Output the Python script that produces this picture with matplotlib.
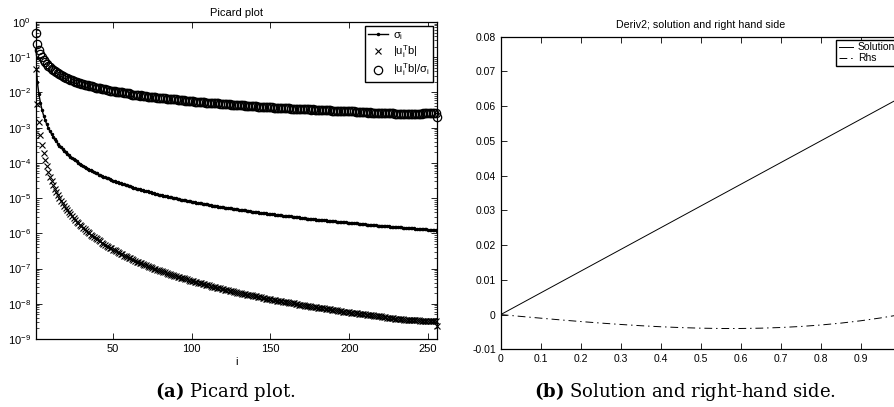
import numpy as np
import matplotlib
matplotlib.use("Agg")
import matplotlib.pyplot as plt
from matplotlib.ticker import LogLocator, NullFormatter, FuncFormatter

# Picard plot data, log10 values (index i = 1..256)
sigma_log = [
    -1.02, -1.70, -2.05, -2.30, -2.50, -2.66, -2.79, -2.91, -3.01, -3.10,
    -3.18, -3.26, -3.33, -3.39, -3.45, -3.51, -3.56, -3.61, -3.66, -3.70,
    -3.74, -3.78, -3.82, -3.86, -3.90, -3.93, -3.96, -3.99, -4.02, -4.05,
    -4.08, -4.11, -4.14, -4.16, -4.19, -4.21, -4.24, -4.26, -4.28, -4.30,
    -4.33, -4.35, -4.37, -4.39, -4.41, -4.43, -4.44, -4.46, -4.48, -4.50,
    -4.52, -4.53, -4.55, -4.56, -4.58, -4.60, -4.61, -4.63, -4.64, -4.66,
    -4.67, -4.68, -4.70, -4.71, -4.73, -4.74, -4.75, -4.77, -4.78, -4.79,
    -4.80, -4.81, -4.83, -4.84, -4.85, -4.86, -4.87, -4.88, -4.90, -4.91,
    -4.92, -4.93, -4.94, -4.95, -4.96, -4.97, -4.98, -4.99, -5.00, -5.01,
    -5.02, -5.03, -5.04, -5.05, -5.06, -5.06, -5.07, -5.08, -5.09, -5.10,
    -5.11, -5.12, -5.13, -5.13, -5.14, -5.15, -5.16, -5.17, -5.17, -5.18,
    -5.19, -5.20, -5.21, -5.21, -5.22, -5.23, -5.24, -5.24, -5.25, -5.26,
    -5.27, -5.27, -5.28, -5.29, -5.29, -5.30, -5.31, -5.31, -5.32, -5.33,
    -5.33, -5.34, -5.35, -5.35, -5.36, -5.37, -5.37, -5.38, -5.39, -5.39,
    -5.40, -5.40, -5.41, -5.42, -5.42, -5.43, -5.43, -5.44, -5.45, -5.45,
    -5.46, -5.46, -5.47, -5.48, -5.48, -5.49, -5.49, -5.50, -5.50, -5.51,
    -5.51, -5.52, -5.52, -5.53, -5.53, -5.54, -5.55, -5.55, -5.56, -5.56,
    -5.57, -5.57, -5.58, -5.58, -5.59, -5.59, -5.60, -5.60, -5.61, -5.61,
    -5.62, -5.62, -5.62, -5.63, -5.63, -5.64, -5.64, -5.65, -5.65, -5.66,
    -5.66, -5.67, -5.67, -5.68, -5.68, -5.68, -5.69, -5.69, -5.70, -5.70,
    -5.71, -5.71, -5.72, -5.72, -5.72, -5.73, -5.73, -5.74, -5.74, -5.74,
    -5.75, -5.75, -5.76, -5.76, -5.76, -5.77, -5.77, -5.78, -5.78, -5.78,
    -5.79, -5.79, -5.80, -5.80, -5.80, -5.81, -5.81, -5.82, -5.82, -5.82,
    -5.83, -5.83, -5.83, -5.84, -5.84, -5.85, -5.85, -5.85, -5.86, -5.86,
    -5.86, -5.87, -5.87, -5.87, -5.88, -5.88, -5.89, -5.89, -5.89, -5.90,
    -5.90, -5.90, -5.91, -5.91, -5.91, -5.92,
]

utb_log = [
    -1.33, -2.32, -2.84, -3.21, -3.50, -3.73, -3.93, -4.10, -4.25, -4.39,
    -4.51, -4.62, -4.73, -4.82, -4.91, -4.99, -5.07, -5.15, -5.22, -5.28,
    -5.34, -5.40, -5.46, -5.52, -5.57, -5.62, -5.67, -5.71, -5.76, -5.80,
    -5.84, -5.89, -5.92, -5.96, -6.00, -6.04, -6.07, -6.11, -6.14, -6.17,
    -6.20, -6.23, -6.27, -6.29, -6.32, -6.35, -6.38, -6.41, -6.43, -6.46,
    -6.48, -6.51, -6.53, -6.56, -6.58, -6.60, -6.63, -6.65, -6.67, -6.69,
    -6.71, -6.74, -6.76, -6.78, -6.80, -6.82, -6.84, -6.85, -6.87, -6.89,
    -6.91, -6.93, -6.95, -6.96, -6.98, -7.00, -7.01, -7.03, -7.05, -7.06,
    -7.08, -7.09, -7.11, -7.13, -7.14, -7.16, -7.17, -7.19, -7.20, -7.21,
    -7.23, -7.24, -7.26, -7.27, -7.28, -7.30, -7.31, -7.32, -7.34, -7.35,
    -7.36, -7.38, -7.39, -7.40, -7.41, -7.42, -7.44, -7.45, -7.46, -7.47,
    -7.48, -7.50, -7.51, -7.52, -7.53, -7.54, -7.55, -7.56, -7.57, -7.58,
    -7.60, -7.61, -7.62, -7.63, -7.64, -7.65, -7.66, -7.67, -7.68, -7.69,
    -7.70, -7.71, -7.72, -7.73, -7.74, -7.75, -7.75, -7.76, -7.77, -7.78,
    -7.79, -7.80, -7.81, -7.82, -7.83, -7.84, -7.85, -7.85, -7.86, -7.87,
    -7.88, -7.89, -7.90, -7.91, -7.91, -7.92, -7.93, -7.94, -7.95, -7.95,
    -7.96, -7.97, -7.98, -7.99, -7.99, -8.00, -8.01, -8.02, -8.02, -8.03,
    -8.04, -8.05, -8.05, -8.06, -8.07, -8.08, -8.08, -8.09, -8.10, -8.11,
    -8.11, -8.12, -8.13, -8.13, -8.14, -8.15, -8.15, -8.16, -8.17, -8.18,
    -8.18, -8.19, -8.20, -8.20, -8.21, -8.22, -8.22, -8.23, -8.23, -8.24,
    -8.25, -8.25, -8.26, -8.27, -8.27, -8.28, -8.29, -8.29, -8.30, -8.30,
    -8.31, -8.32, -8.32, -8.33, -8.33, -8.34, -8.35, -8.35, -8.36, -8.36,
    -8.37, -8.38, -8.38, -8.39, -8.39, -8.40, -8.40, -8.41, -8.42, -8.42,
    -8.43, -8.43, -8.44, -8.44, -8.45, -8.45, -8.45, -8.46, -8.46, -8.46,
    -8.47, -8.47, -8.47, -8.47, -8.48, -8.48, -8.48, -8.48, -8.48, -8.49,
    -8.49, -8.49, -8.49, -8.49, -8.49, -8.62,
]

# deriv2 panel
sol_t = [0.0, 1.0]
sol = [0.0, 0.0625]
rhs_t = [0.0, 0.05, 0.1, 0.15, 0.2, 0.25, 0.3, 0.35, 0.4, 0.45, 0.5,
         0.55, 0.6, 0.65, 0.7, 0.75, 0.8, 0.85, 0.9, 0.95, 1.0]
rhs = [0.0, -0.00052, -0.00103, -0.00153, -0.00200, -0.00244, -0.00284,
       -0.00320, -0.00350, -0.00374, -0.00391, -0.00400, -0.00400, -0.00391,
       -0.00372, -0.00342, -0.00300, -0.00246, -0.00178, -0.00096, 0.0]

picard_xticks = [50, 100, 150, 200, 250]
deriv_xticks = [0, 0.1, 0.2, 0.3, 0.4, 0.5, 0.6, 0.7, 0.8, 0.9, 1.0]
deriv_xlabels = ["0", "0.1", "0.2", "0.3", "0.4", "0.5", "0.6", "0.7", "0.8", "0.9", ""]
deriv_yticks = [-0.01, 0, 0.01, 0.02, 0.03, 0.04, 0.05, 0.06, 0.07, 0.08]

plt.rcParams.update({
    "font.family": ["Liberation Sans", "DejaVu Sans"],
    "mathtext.fontset": "custom",
    "mathtext.rm": "Liberation Sans",
    "mathtext.it": "Liberation Sans",
    "mathtext.bf": "Liberation Sans:bold",
    "axes.linewidth": 0.9,
})

fig = plt.figure(figsize=(8.94, 4.07), dpi=100)

# (a) Picard plot
ax1 = fig.add_axes([0.040, 0.167, 0.4493, 0.779])
idx = np.arange(1, len(sigma_log) + 1)
sigma = 10.0 ** np.array(sigma_log)
utb = 10.0 ** np.array(utb_log)

ax1.semilogy(idx, sigma, ".-", color="k", lw=1.0, ms=3, label=r"$\sigma_i$")
ax1.semilogy(idx, utb, "x", color="k", ms=4.5, mew=0.8, clip_on=False,
             label=r"$|u_i^Tb|$")
ax1.semilogy(idx, utb / sigma, "o", mfc="none", mec="k", ms=6, mew=0.9,
             clip_on=False, label=r"$|u_i^Tb|/\sigma_i$")

ax1.set_xlim(1, 256)
ax1.set_ylim(1e-9, 1)
ax1.set_xticks(picard_xticks)
ax1.yaxis.set_major_locator(LogLocator(base=10, numticks=12))
ax1.yaxis.set_minor_locator(LogLocator(base=10, subs=np.arange(2, 10), numticks=12))
ax1.yaxis.set_minor_formatter(NullFormatter())
ax1.tick_params(which="both", direction="in", top=True, right=True, labelsize=8)
ax1.tick_params(which="major", length=4, width=0.6)
ax1.tick_params(which="minor", length=2, width=0.5)
ax1.set_title("Picard plot", fontsize=8, pad=4)
ax1.set_xlabel("i", fontsize=8, labelpad=2)
ax1.legend(loc="upper right", fontsize=8, numpoints=1, handlelength=1.8,
           labelspacing=0.15, borderpad=0.3, borderaxespad=0.4,
           handletextpad=0.4, fancybox=False, framealpha=1, edgecolor="k")

# (b) solution and right hand side
ax2 = fig.add_axes([0.5601, 0.1417, 0.4474, 0.7681])
ax2.plot(sol_t, sol, "-", color="k", lw=0.7, label="Solution")
ax2.plot(rhs_t, rhs, color="k", lw=0.7, ls=(0, (8, 4, 1.5, 4)), label="Rhs")
ax2.set_xlim(0, 1)
ax2.set_ylim(-0.01, 0.08)
ax2.set_xticks(deriv_xticks)
ax2.set_xticklabels(deriv_xlabels)
ax2.set_yticks(deriv_yticks)
ax2.yaxis.set_major_formatter(FuncFormatter(lambda v, p: "%g" % round(v, 4)))
ax2.tick_params(direction="in", top=True, right=True, labelsize=7.5,
                length=4, width=0.6)
ax2.set_title("Deriv2; solution and right hand side", fontsize=7.7, pad=6)
ax2.legend(loc="upper right", fontsize=7.5, handlelength=1.3,
           labelspacing=0.1, borderpad=0.25, borderaxespad=0.3,
           handletextpad=0.5, fancybox=False, framealpha=1, edgecolor="k")

# sub captions
fig.text(225 / 894, 1 - 397 / 407, r"$\mathbf{(a)}$ Picard plot.",
         ha="center", va="baseline", fontsize=13, family="DejaVu Serif",
         math_fontfamily="dejavuserif")
fig.text(685 / 894, 1 - 397 / 407, r"$\mathbf{(b)}$ Solution and right-hand side.",
         ha="center", va="baseline", fontsize=13, family="DejaVu Serif",
         math_fontfamily="dejavuserif")

fig.savefig("out.png", dpi=100)
